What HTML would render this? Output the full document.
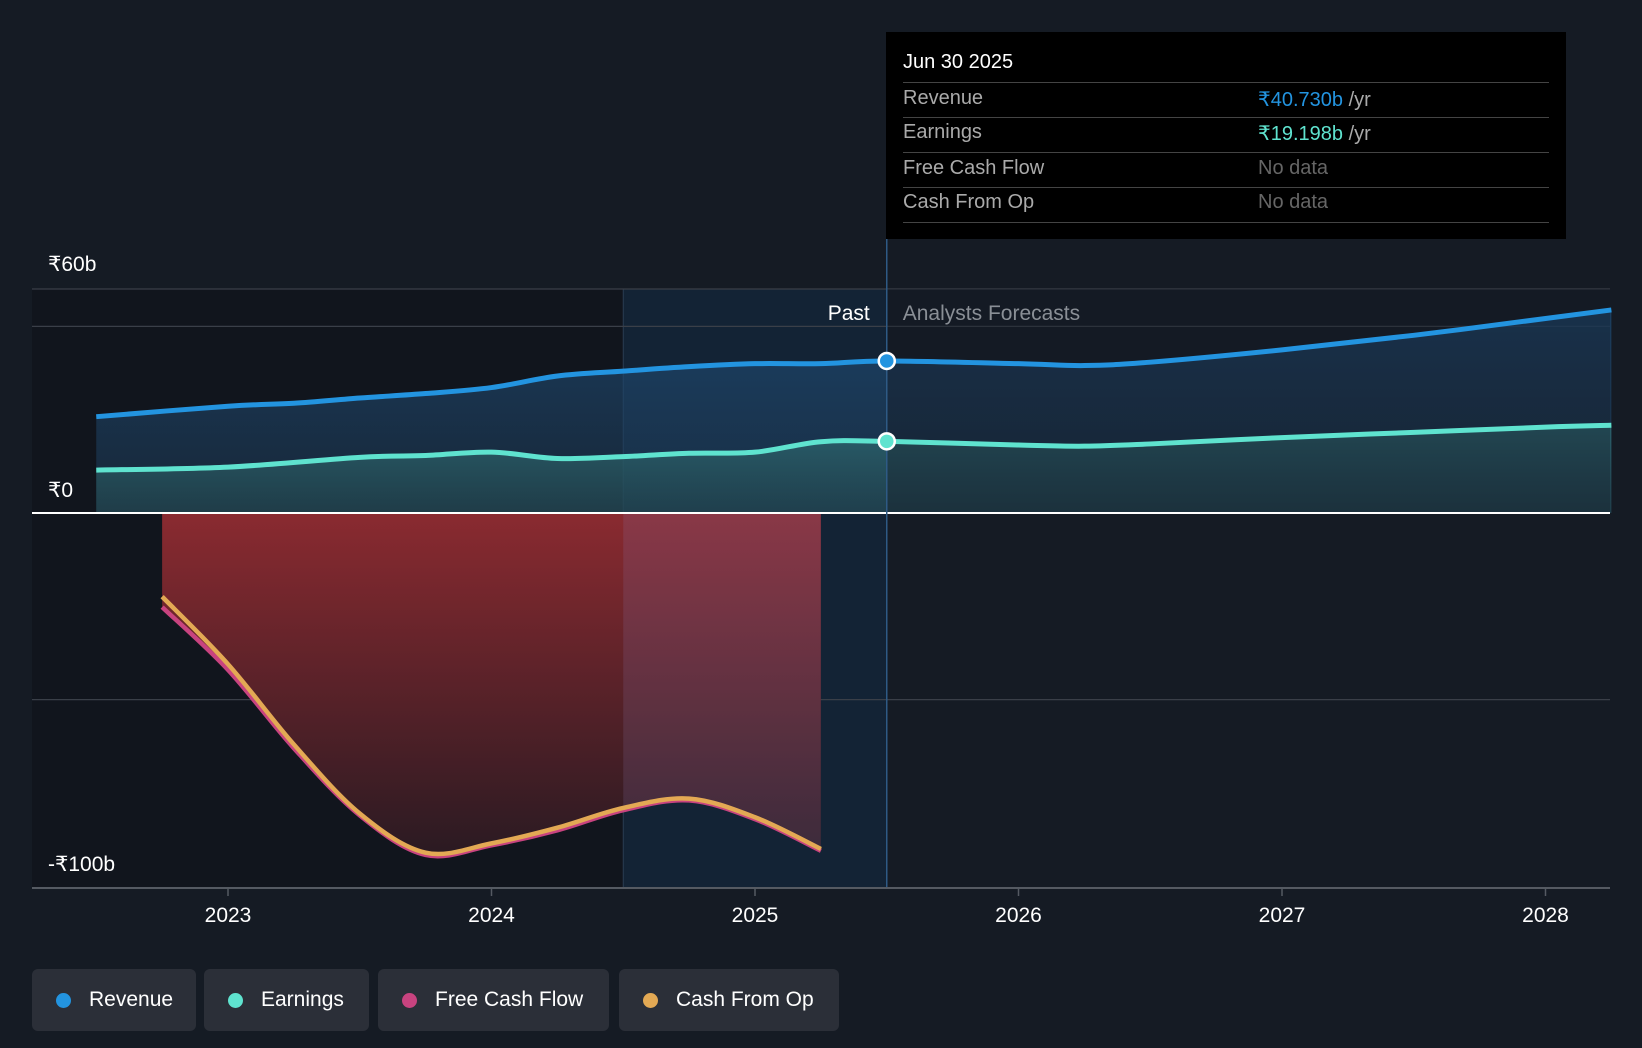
<!DOCTYPE html>
<html><head><meta charset="utf-8">
<style>
html,body{margin:0;padding:0;background:#151b24;}
body{width:1642px;height:1048px;overflow:hidden;position:relative;font-family:"Liberation Sans",sans-serif;}
.leg{position:absolute;top:969px;height:62px;background:#2b2f38;border-radius:6px;color:#fff;font-size:21px;display:flex;align-items:center;box-sizing:border-box;padding-left:24px;}
.leg i{width:15px;height:15px;border-radius:50%;display:inline-block;margin-right:18px;}
</style></head><body>
<svg id="chart" width="1642" height="1048" style="position:absolute;left:0;top:0">
<defs>
<linearGradient id="rg" x1="0" y1="0" x2="0" y2="1"><stop offset="0" stop-color="#8a2a30"/><stop offset="1" stop-color="#2a1a22"/></linearGradient>
<linearGradient id="revg" x1="0" y1="0" x2="0" y2="1"><stop offset="0" stop-color="#1e4d78" stop-opacity="0.7"/><stop offset="1" stop-color="#1e3a55" stop-opacity="0.5"/></linearGradient>
<linearGradient id="earg" x1="0" y1="0" x2="0" y2="1"><stop offset="0" stop-color="#2e6a72" stop-opacity="0.8"/><stop offset="1" stop-color="#244a52" stop-opacity="0.6"/></linearGradient>
<clipPath id="fcfclip"><path id="fcfclippath" d=""/></clipPath>
</defs>
<g id="bg"></g><g id="areas"></g><g id="lines"></g><g id="axes"></g>
</svg>

<div style="position:absolute;left:886px;top:32px;width:680px;height:207px;background:#000;color:#fff;font-size:20px;">
<div style="position:absolute;left:17px;top:19px;">Jun 30 2025</div>
<div style="position:absolute;left:17px;right:17px;top:50px;border-top:1px solid #444"></div>
<div style="position:absolute;left:17px;top:55px;color:#aaa">Revenue</div>
<div style="position:absolute;left:372px;top:55px;color:#2394e0">₹40.730b <span style="color:#aaa">/yr</span></div>
<div style="position:absolute;left:17px;right:17px;top:85px;border-top:1px solid #444"></div>
<div style="position:absolute;left:17px;top:89px;color:#aaa">Earnings</div>
<div style="position:absolute;left:372px;top:89px;color:#5fe3cf">₹19.198b <span style="color:#aaa">/yr</span></div>
<div style="position:absolute;left:17px;right:17px;top:120px;border-top:1px solid #444"></div>
<div style="position:absolute;left:17px;top:125px;color:#aaa">Free Cash Flow</div>
<div style="position:absolute;left:372px;top:125px;color:#666">No data</div>
<div style="position:absolute;left:17px;right:17px;top:155px;border-top:1px solid #444"></div>
<div style="position:absolute;left:17px;top:159px;color:#aaa">Cash From Op</div>
<div style="position:absolute;left:372px;top:159px;color:#666">No data</div>
<div style="position:absolute;left:17px;right:17px;top:190px;border-top:1px solid #444"></div>
</div>

<div class="leg" style="left:32px;width:164px"><i style="background:#2394e0"></i>Revenue</div>
<div class="leg" style="left:204px;width:165px"><i style="background:#5fe3cf"></i>Earnings</div>
<div class="leg" style="left:378px;width:231px"><i style="background:#c8437f"></i>Free Cash Flow</div>
<div class="leg" style="left:619px;width:220px"><i style="background:#e3a954"></i>Cash From Op</div>

<script>
const revT=[2022.5,2023,2023.25,2023.5,2023.75,2024,2024.25,2024.5,2024.75,2025,2025.25,2025.5,2026,2026.25,2026.5,2027,2027.5,2028,2028.25];
const revV=[25.8,28.6,29.4,30.8,32,33.6,36.7,38,39.2,40,40,40.73,40,39.5,40.4,43.7,47.6,52.1,54.4];
const earT=[2022.5,2023,2023.5,2023.75,2024,2024.25,2024.5,2024.75,2025,2025.25,2025.5,2026,2026.25,2026.5,2027,2027.5,2028,2028.25];
const earV=[11.5,12.3,14.9,15.4,16.3,14.6,15.1,16,16.3,19.1,19.198,18.2,17.9,18.5,20.2,21.6,23,23.5];
const cfT=[2022.75,2023,2023.25,2023.5,2023.75,2024,2024.25,2024.5,2024.75,2025,2025.25];
const fcfV=[-25.2,-42,-63,-81,-91.6,-89,-85,-79.6,-77,-82,-90.5];
const cfoV=[-22.4,-40.5,-62,-80.5,-91,-88.5,-84.3,-79,-76.5,-81.5,-90];
const yTicks=[60,0,-100];
const yTickLabels=["₹60b","₹0","-₹100b"];
const xTicks=[2023,2024,2025,2026,2027,2028];

const X=t=>228+(t-2023)*263.5;
const Y=v=>513-v*3.733;
const NS="http://www.w3.org/2000/svg";
function mk(p,tag,at){const e=document.createElementNS(NS,tag);for(const k in at)e.setAttribute(k,at[k]);document.getElementById(p).appendChild(e);return e;}
function path(T,V){let pts=T.map((t,i)=>[X(t),Y(V[i])]);let d="M"+pts[0][0]+","+pts[0][1];
for(let i=0;i<pts.length-1;i++){const p0=pts[Math.max(0,i-1)],p1=pts[i],p2=pts[i+1],p3=pts[Math.min(pts.length-1,i+2)];
d+=" C"+(p1[0]+(p2[0]-p0[0])/6)+","+(p1[1]+(p2[1]-p0[1])/6)+" "+(p2[0]-(p3[0]-p1[0])/6)+","+(p2[1]-(p3[1]-p1[1])/6)+" "+p2[0]+","+p2[1];}return d;}
const divX=X(2025.5), pastX=X(2024.5);
let e;
e=mk("bg","rect",{x:32,y:289,width:pastX-32,height:599,fill:"#11151d"});

e=mk("bg","rect",{x:pastX,y:289,width:divX-pastX,height:599,fill:"#132335"});

mk("bg","line",{x1:pastX,y1:289,x2:pastX,y2:888,stroke:"#2a3d52","stroke-width":1});
[289,Y(50),Y(-50)].forEach(y=>{e=mk("bg","line",{x1:32,y1:y,x2:1610,y2:y,stroke:"#3a3f48","stroke-width":1.3});});
const rp=path(revT,revV);
e=mk("areas","path",{d:rp+` L${X(revT[revT.length-1])},513 L${X(revT[0])},513 Z`,fill:"url(#revg)"});

const ep=path(earT,earV);
e=mk("areas","path",{d:ep+` L${X(earT[earT.length-1])},513 L${X(earT[0])},513 Z`,fill:"url(#earg)"});

const fp=path(cfT,fcfV);
const fArea=`M${X(cfT[0])},513 L`+fp.slice(1)+` L${X(cfT[cfT.length-1])},513 Z`;
document.getElementById("fcfclippath").setAttribute("d",fArea);
e=mk("areas","path",{d:fArea,fill:"url(#rg)"});

e=mk("areas","rect",{x:pastX,y:513,width:X(cfT[cfT.length-1])-pastX,height:340,fill:"#8a7ab0","fill-opacity":0.18,"clip-path":"url(#fcfclip)"});
mk("areas","rect",{x:divX,y:289,width:1610-divX,height:224,fill:"#151b24","fill-opacity":0.35});
e=mk("lines","path",{d:rp,fill:"none",stroke:"#2394e0","stroke-width":5});

e=mk("lines","path",{d:ep,fill:"none",stroke:"#5fe3cf","stroke-width":5});

e=mk("lines","path",{d:fp,fill:"none",stroke:"#c8437f","stroke-width":4.5});

e=mk("lines","path",{d:path(cfT,cfoV),fill:"none",stroke:"#e3a954","stroke-width":4.5});

e=mk("axes","line",{x1:32,y1:513,x2:1610,y2:513,stroke:"#fff","stroke-width":2});

e=mk("axes","line",{x1:divX,y1:239,x2:divX,y2:888,stroke:"#2e5a85","stroke-width":1.5});

e=mk("axes","line",{x1:32,y1:888,x2:1610,y2:888,stroke:"#555a62","stroke-width":2});

xTicks.forEach(t=>{mk("axes","line",{x1:X(t),y1:888,x2:X(t),y2:896,stroke:"#555a62","stroke-width":1.5});
e=mk("axes","text",{x:X(t),y:922,fill:"#fff","font-size":21,"text-anchor":"middle","font-family":"Liberation Sans"});e.textContent=t;
});
const ly={60:271,0:497,"-100":871};
yTicks.forEach((v,i)=>{e=mk("axes","text",{x:48,y:ly[v],fill:"#fff","font-size":21,"font-family":"Liberation Sans"});e.textContent=yTickLabels[i];
});
e=mk("axes","text",{x:divX-17,y:320,fill:"#fff","font-size":21,"text-anchor":"end","font-family":"Liberation Sans"});e.textContent="Past";

e=mk("axes","text",{x:divX+16,y:320,fill:"#8a8f96","font-size":21,"font-family":"Liberation Sans"});e.textContent="Analysts Forecasts";

e=mk("axes","circle",{cx:divX,cy:Y(revV[11]),r:8,fill:"#2394e0",stroke:"#fff","stroke-width":2.5});

e=mk("axes","circle",{cx:divX,cy:Y(earV[10]),r:8,fill:"#5fe3cf",stroke:"#fff","stroke-width":2.5});

</script>
</body></html>
